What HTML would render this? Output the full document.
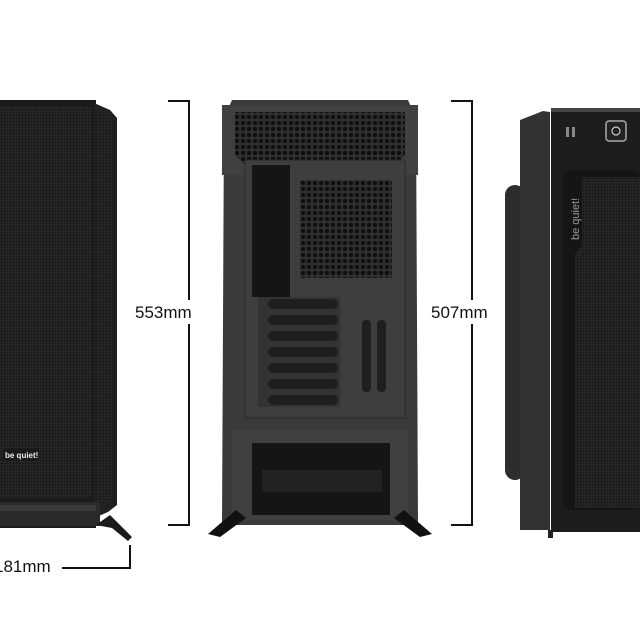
<!DOCTYPE html>
<html><head><style>body{margin:0;background:#fff}svg{display:block}</style></head><body>
<svg width="640" height="640" viewBox="0 0 640 640" xmlns="http://www.w3.org/2000/svg">
<defs>
<pattern id="m" width="3" height="3" patternUnits="userSpaceOnUse"><rect width="3" height="3" fill="#262626"/><circle cx="1.5" cy="1.5" r="0.9" fill="#141414"/></pattern>
<pattern id="h" width="6" height="6" patternUnits="userSpaceOnUse"><rect width="6" height="6" fill="#2e2e2e"/><circle cx="3" cy="3" r="2" fill="#0e0e0e"/></pattern>
</defs>
<!-- LEFT CASE -->
<rect x="0" y="100" width="96" height="428" fill="#1a1a1a"/>
<rect x="0" y="106" width="92" height="392" fill="url(#m)"/>
<polygon points="94,103 110,110 117,118 117,505 108,512 94,518" fill="#202020"/>
<polygon points="98,110 112,118 112,500 98,510" fill="url(#m)"/>
<rect x="0" y="502" width="100" height="24" fill="#2a2a2a"/>
<rect x="0" y="505" width="96" height="6" fill="#3a3a3a"/>
<polygon points="96,525 110,515 132,537 128,541 112,528" fill="#1a1a1a"/>
<rect x="3" y="448" width="36" height="13" fill="#1a1a1a"/>
<text x="5" y="458" font-family="Liberation Sans,sans-serif" font-size="8" font-weight="bold" fill="#eee">be quiet!</text>
<text x="-6" y="572" font-family="Liberation Sans,sans-serif" font-size="17" fill="#111">181mm</text>
<polyline points="62,568 130,568 130,545" fill="none" stroke="#111" stroke-width="2"/>
<!-- MIDDLE CASE -->
<polygon points="232,100 408,100 416,118 418,525 222,525 224,118" fill="#3a3a3a"/>
<rect x="222" y="105" width="196" height="70" fill="#404040"/>
<polygon points="235,112 405,112 405,155 395,165 245,165 235,155" fill="url(#h)"/>
<rect x="245" y="160" width="160" height="258" fill="#3e3e3e" stroke="#2a2a2a"/>
<rect x="252" y="165" width="38" height="132" fill="#151515"/>
<rect x="300" y="180" width="92" height="98" fill="url(#h)"/>
<g fill="#1f1f1f">
<rect x="258" y="297" width="82" height="110" fill="#333"/>
<rect x="268" y="299" width="70" height="10" rx="5"/><rect x="268" y="315" width="70" height="10" rx="5"/>
<rect x="268" y="331" width="70" height="10" rx="5"/><rect x="268" y="347" width="70" height="10" rx="5"/>
<rect x="268" y="363" width="70" height="10" rx="5"/><rect x="268" y="379" width="70" height="10" rx="5"/>
<rect x="268" y="395" width="70" height="10" rx="5"/>
<rect x="362" y="320" width="9" height="72" rx="4"/><rect x="377" y="320" width="9" height="72" rx="4"/>
</g>
<rect x="232" y="430" width="176" height="90" fill="#404040"/>
<rect x="252" y="443" width="138" height="72" fill="#151515"/>
<rect x="262" y="470" width="120" height="22" fill="#222"/>
<polygon points="236,510 246,518 220,537 208,534" fill="#111"/>
<polygon points="404,510 394,518 420,537 432,534" fill="#111"/>
<!-- dimension brackets -->
<polyline points="168,101 189,101 189,525 168,525" fill="none" stroke="#111" stroke-width="2"/>
<rect x="183" y="300" width="14" height="24" fill="#fff"/>
<text x="135" y="318" font-family="Liberation Sans,sans-serif" font-size="17" fill="#111">553mm</text>
<polyline points="451,101 472,101 472,525 451,525" fill="none" stroke="#111" stroke-width="2"/>
<rect x="466" y="300" width="14" height="24" fill="#fff"/>
<text x="431" y="318" font-family="Liberation Sans,sans-serif" font-size="17" fill="#111">507mm</text>
<!-- RIGHT CASE -->
<rect x="505" y="185" width="20" height="295" rx="10" fill="#2d2d2d"/>
<polygon points="520,120 543,111 550,112 550,530 520,530" fill="#333"/>
<rect x="551" y="108" width="89" height="424" fill="#1c1c1c"/>
<rect x="551" y="108" width="89" height="4" fill="#444"/>
<rect x="566" y="127" width="3" height="10" fill="#888"/><rect x="572" y="127" width="3" height="10" fill="#888"/>
<rect x="606" y="121" width="20" height="20" rx="3" fill="#222" stroke="#aaa" stroke-width="1.5"/>
<circle cx="616" cy="131" r="4" fill="none" stroke="#ccc" stroke-width="1.2"/>
<rect x="563" y="170" width="77" height="340" rx="6" fill="#151515"/>
<polygon points="575,177 640,177 640,508 575,508 575,255 582,245 582,177" fill="url(#m)"/>
<text transform="translate(579,240) rotate(-90)" font-family="Liberation Sans,sans-serif" font-size="11" fill="#999">be quiet!</text>
<rect x="548" y="530" width="5" height="8" fill="#222"/>
</svg>
</body></html>
